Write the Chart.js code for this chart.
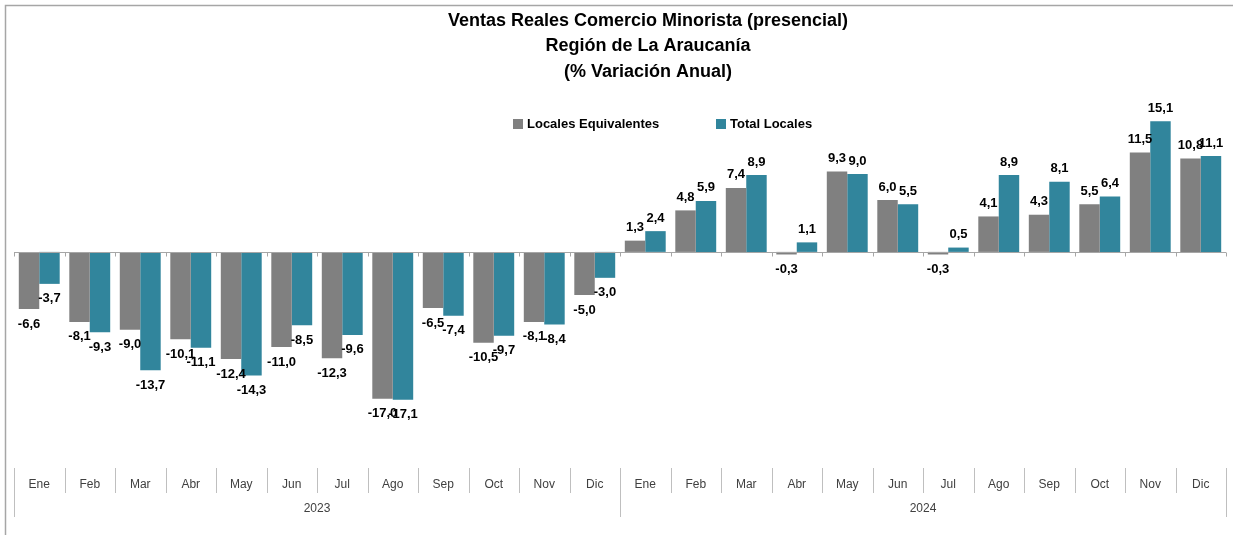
<!DOCTYPE html>
<html>
<head>
<meta charset="utf-8">
<script src="https://cdn.jsdelivr.net/npm/chart.js@4.4.1/dist/chart.umd.min.js"></script>
<style>
  html, body { margin: 0; padding: 0; background: #ffffff; }
  #wrap { width: 1233px; height: 535px; position: relative; }
</style>
</head>
<body>
<div id="wrap"><canvas id="c" width="1233" height="535"></canvas></div>
<script>
// ---- Data ----
const titleLines = ['Ventas Reales Comercio Minorista (presencial)', 'Región de La Araucanía', '(% Variación Anual)'];
const months = ['Ene','Feb','Mar','Abr','May','Jun','Jul','Ago','Sep','Oct','Nov','Dic',
                'Ene','Feb','Mar','Abr','May','Jun','Jul','Ago','Sep','Oct','Nov','Dic'];
const years = ['2023', '2024'];
const seriesNames = ['Locales Equivalentes', 'Total Locales'];
const localesEquivalentes = [-6.6, -8.1, -9.0, -10.1, -12.4, -11.0, -12.3, -17.0, -6.5, -10.5, -8.1, -5.0,
                              1.3, 4.8, 7.4, -0.3, 9.3, 6.0, -0.3, 4.1, 4.3, 5.5, 11.5, 10.8];
const totalLocales = [-3.7, -9.3, -13.7, -11.1, -14.3, -8.5, -9.6, -17.1, -7.4, -9.7, -8.4, -3.0,
                       2.4, 5.9, 8.9, 1.1, 9.0, 5.5, 0.5, 8.9, 8.1, 6.4, 15.1, 11.1];

const GRAY = '#808080';
const TEAL = '#31859C';
const FONT = '"Liberation Sans Narrow", "Liberation Sans", Arial, sans-serif';

const fmt = v => v.toFixed(1).replace('.', ',');

const decor = {
  id: 'decor',
  beforeDraw(chart) {
    const ctx = chart.ctx;
    ctx.save();
    ctx.fillStyle = '#ffffff';
    ctx.fillRect(0, 0, chart.width, chart.height);
    // outer border
    ctx.strokeStyle = '#a6a6a6';
    ctx.lineWidth = 1.5;
    ctx.beginPath();
    ctx.moveTo(5.5, 540);
    ctx.lineTo(5.5, 5.5);
    ctx.lineTo(1240, 5.5);
    ctx.stroke();
    ctx.restore();
  },
  afterDatasetsDraw(chart) {
    const ctx = chart.ctx;
    const xs = chart.scales.x, ys = chart.scales.y;
    const n = months.length;
    const left = chart.chartArea.left, right = chart.chartArea.right;
    const step = (right - left) / n;
    const y0 = Math.round(ys.getPixelForValue(0)) + 0.5;
    ctx.save();
    // zero axis line
    ctx.strokeStyle = '#a6a6a6';
    ctx.lineWidth = 1;
    ctx.beginPath();
    ctx.moveTo(left, y0); ctx.lineTo(right, y0);
    for (let i = 0; i <= n; i++) {
      const bx = Math.round(left + i * step) + 0.5;
      ctx.moveTo(bx, y0); ctx.lineTo(bx, y0 + 4);
    }
    ctx.stroke();

    // category axis (two levels)
    const axTop = chart.chartArea.bottom;
    ctx.strokeStyle = '#bfbfbf';
    ctx.beginPath();
    for (let i = 0; i <= n; i++) {
      const bx = Math.round(left + i * step) + 0.5;
      const isYear = (i % 12 === 0);
      ctx.moveTo(bx, axTop);
      ctx.lineTo(bx, isYear ? axTop + 49 : axTop + 25);
    }
    ctx.stroke();
    ctx.fillStyle = '#404040';
    ctx.font = '12px ' + FONT;
    ctx.textAlign = 'center';
    ctx.textBaseline = 'middle';
    for (let i = 0; i < n; i++) {
      ctx.fillText(months[i], xs.getPixelForValue(i), axTop + 17);
    }
    years.forEach((yr, k) => {
      const cx = left + (k * 12 + 6) * step;
      ctx.fillText(yr, cx, axTop + 41);
    });

    // data labels
    ctx.fillStyle = '#000000';
    ctx.font = 'bold 13px ' + FONT;
    chart.data.datasets.forEach((ds, di) => {
      const meta = chart.getDatasetMeta(di);
      meta.data.forEach((bar, i) => {
        const v = ds.data[i];
        const ly = v >= 0 ? bar.y - 13 : bar.y + 15;
        ctx.fillText(fmt(v), bar.x, ly);
      });
    });

    // title
    ctx.font = 'bold 18px ' + FONT;
    ctx.fillStyle = '#000000';
    titleLines.forEach((t, k) => ctx.fillText(t, 648, 21 + k * 25.5));

    // legend
    ctx.font = 'bold 13px ' + FONT;
    ctx.textAlign = 'left';
    const legendX = [513, 716];
    chart.data.datasets.forEach((ds, di) => {
      ctx.fillStyle = ds.backgroundColor;
      ctx.fillRect(legendX[di], 119, 10, 10);
      ctx.fillStyle = '#000000';
      ctx.fillText(ds.label, legendX[di] + 14, 124.5);
    });
    ctx.restore();
  }
};

new Chart(document.getElementById('c'), {
  type: 'bar',
  data: {
    labels: months,
    datasets: [
      { label: seriesNames[0], data: localesEquivalentes, backgroundColor: GRAY },
      { label: seriesNames[1], data: totalLocales, backgroundColor: TEAL }
    ]
  },
  options: {
    responsive: false,
    animation: false,
    events: [],
    layout: { padding: { left: 14, right: 7, top: 79, bottom: 67 } },
    datasets: { bar: { categoryPercentage: 0.81, barPercentage: 1.0 } },
    scales: {
      x: { display: false },
      y: { display: false, min: -25, max: 20 }
    },
    plugins: { legend: { display: false }, title: { display: false }, tooltip: { enabled: false } }
  },
  plugins: [decor]
});
</script>
</body>
</html>
